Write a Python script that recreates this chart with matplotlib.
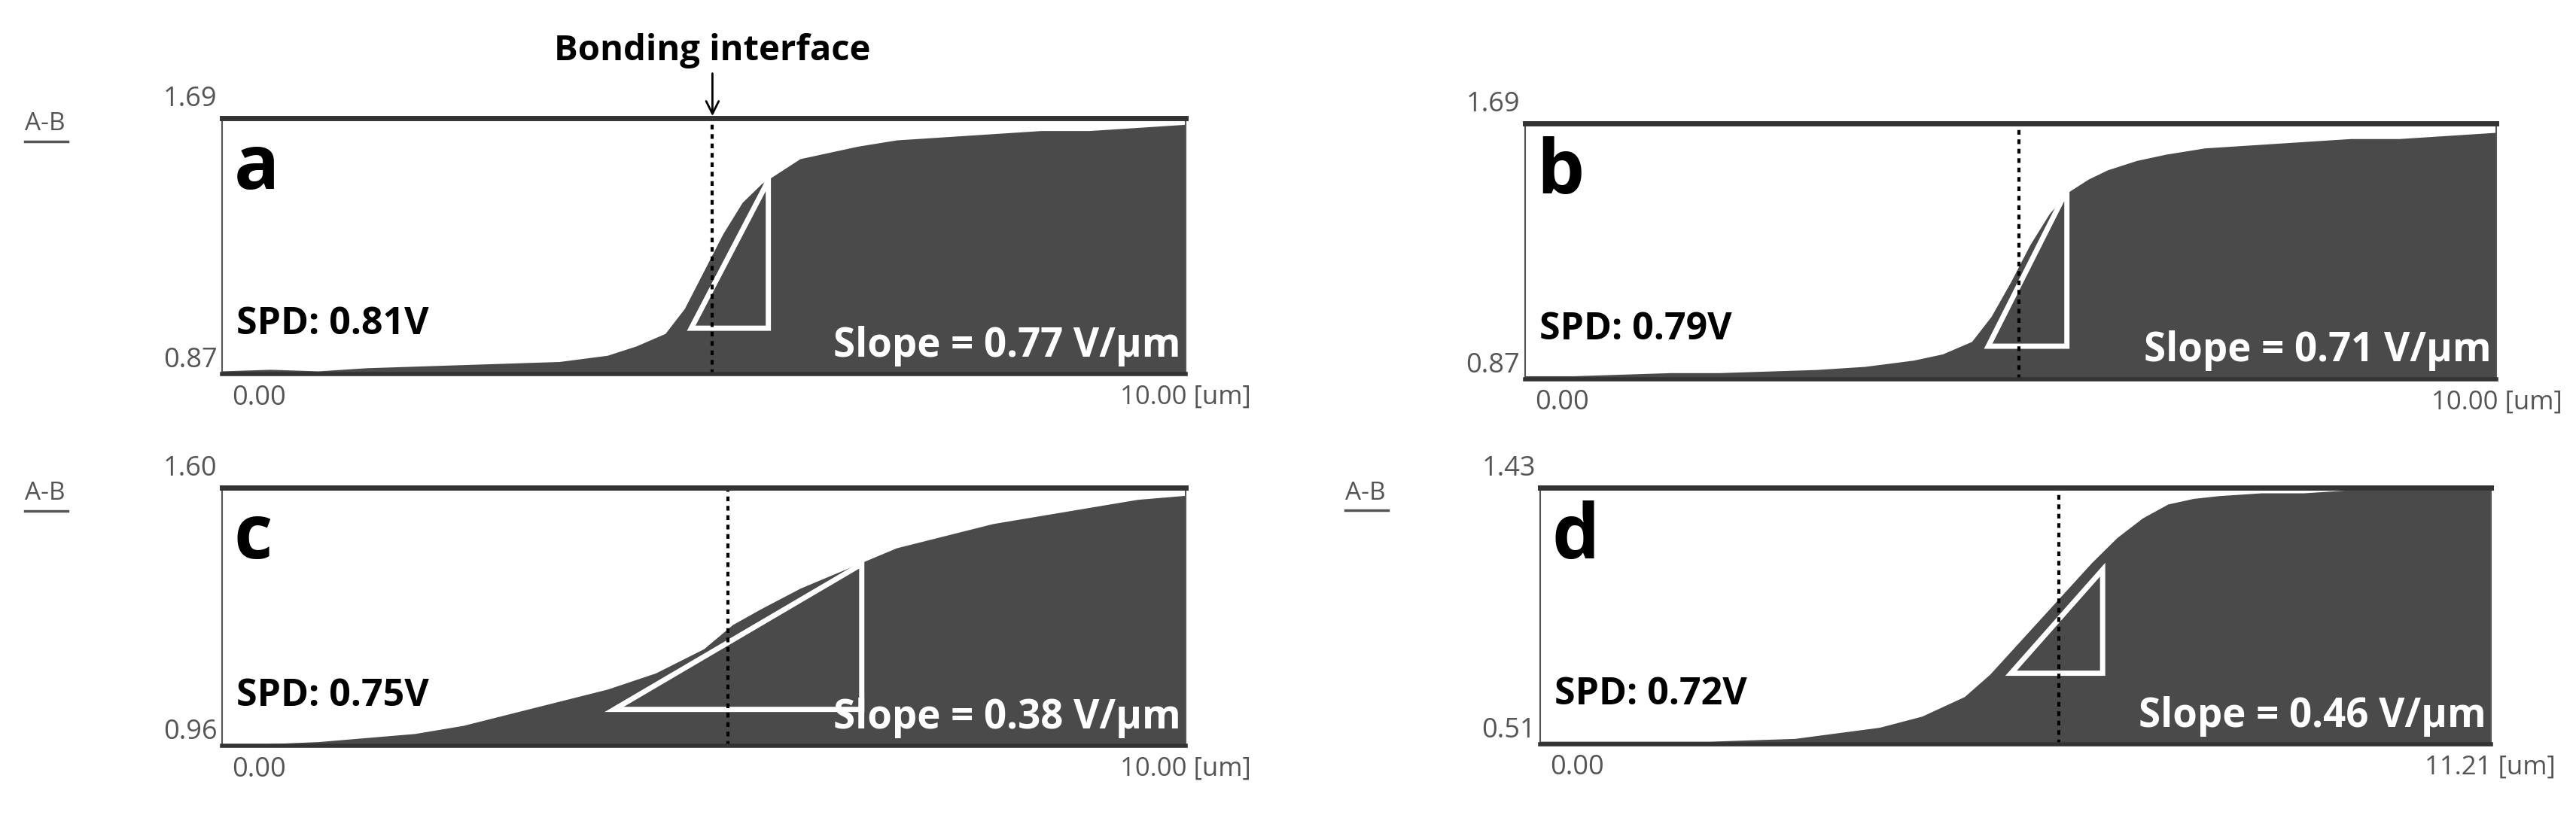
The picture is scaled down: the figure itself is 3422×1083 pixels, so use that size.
import matplotlib.pyplot as plt
from matplotlib.patches import Polygon

# ===== DATA =====
labels = ["a", "b", "c", "d"]
spd = ["SPD: 0.81V", "SPD: 0.79V", "SPD: 0.75V", "SPD: 0.72V"]
slopes = ["Slope = 0.77 V/\u00b5m", "Slope = 0.71 V/\u00b5m", "Slope = 0.38 V/\u00b5m", "Slope = 0.46 V/\u00b5m"]
ymins = [0.87, 0.87, 0.96, 0.51]
ymaxs = [1.69, 1.69, 1.60, 1.43]
xmaxs = [10.00, 10.00, 10.00, 11.21]
interface_x = [5.09, 5.09, 5.25, 6.11]

x_a = [0, 0.5, 1, 1.5, 2, 2.5, 3, 3.5, 4, 4.3, 4.6, 4.8, 5.0, 5.2, 5.4, 5.6, 5.8, 6.0, 6.3, 6.6, 7, 7.5, 8, 8.5, 9, 9.5, 10]
y_a = [0.88, 0.885, 0.88, 0.89, 0.895, 0.90, 0.905, 0.91, 0.93, 0.96, 1.00, 1.08, 1.20, 1.32, 1.42, 1.48, 1.52, 1.56, 1.58, 1.60, 1.62, 1.63, 1.64, 1.65, 1.65, 1.66, 1.67]
x_b = [0, 0.5, 1, 1.5, 2, 2.5, 3, 3.5, 4, 4.3, 4.6, 4.8, 5.0, 5.2, 5.4, 5.6, 5.8, 6.0, 6.3, 6.6, 7, 7.5, 8, 8.5, 9, 9.5, 10]
y_b = [0.88, 0.88, 0.885, 0.89, 0.89, 0.895, 0.90, 0.91, 0.93, 0.95, 0.99, 1.07, 1.18, 1.30, 1.40, 1.47, 1.51, 1.54, 1.57, 1.59, 1.61, 1.62, 1.63, 1.64, 1.64, 1.65, 1.66]
x_c = [0, 0.5, 1, 1.5, 2, 2.5, 3, 3.5, 4, 4.5, 5, 5.3, 5.6, 6, 6.5, 7, 7.5, 8, 8.5, 9, 9.5, 10]
y_c = [0.96, 0.965, 0.97, 0.98, 0.99, 1.01, 1.04, 1.07, 1.10, 1.14, 1.20, 1.26, 1.30, 1.35, 1.40, 1.45, 1.48, 1.51, 1.53, 1.55, 1.57, 1.58]
x_d = [0, 1, 2, 3, 3.5, 4, 4.5, 5, 5.3, 5.6, 5.9, 6.2, 6.5, 6.8, 7.1, 7.4, 7.7, 8, 8.5, 9, 9.5, 10, 10.5, 11.21]
y_d = [0.52, 0.52, 0.52, 0.53, 0.55, 0.57, 0.61, 0.68, 0.76, 0.86, 0.96, 1.06, 1.16, 1.25, 1.32, 1.37, 1.39, 1.40, 1.41, 1.41, 1.42, 1.42, 1.42, 1.42]
xs = [x_a, x_b, x_c, x_d]
ys = [y_a, y_b, y_c, y_d]

# triangle corners: (x_left, x_right, y_bottom, y_top)
tri_a = (4.87, 5.67, 1.017, 1.49)
tri_b = (4.77, 5.58, 0.975, 1.475)
tri_c = (4.07, 6.64, 1.05, 1.41)
tri_d = (5.55, 6.63, 0.764, 1.135)
tris = [tri_a, tri_b, tri_c, tri_d]

# axes rectangles [left, bottom, width, height] in figure fraction
rects = [
    [0.0862, 0.541, 0.374, 0.314],
    [0.592, 0.535, 0.377, 0.314],
    [0.0862, 0.085, 0.374, 0.317],
    [0.598, 0.087, 0.369, 0.315],
]

FONT = ["Open Sans", "DejaVu Sans"]
FILL = "#4a4a4a"

fig = plt.figure(figsize=(34.22, 10.83), dpi=100)

for i in range(4):
    ax = fig.add_axes(rects[i])
    ax.fill_between(xs[i], ymins[i], ys[i], color=FILL, lw=0)
    ax.set_xlim(0, xmaxs[i])
    ax.set_ylim(ymins[i], ymaxs[i])
    ax.set_xticks([])
    ax.set_yticks([])
    for s in ax.spines.values():
        s.set_color("#555555")
        s.set_linewidth(1.5)
    ax.spines["top"].set_linewidth(5)
    ax.spines["top"].set_color("#333333")
    ax.spines["bottom"].set_linewidth(4)
    ax.spines["bottom"].set_color("#333333")

    ax.axvline(interface_x[i], ymin=0, ymax=1, color="black", ls=(0, (1.5, 1.5)), lw=3)
    xl, xr, yb, yt = tris[i]
    ax.add_patch(Polygon([(xl, yb), (xr, yb), (xr, yt)], closed=True, fill=False, ec="white", lw=5))

    ax.text(0.012, 0.95, labels[i], transform=ax.transAxes, fontsize=72, fontweight="bold",
            family=FONT, va="top", ha="left")
    ax.text(0.015, 0.12, spd[i], transform=ax.transAxes, fontsize=36, fontweight="bold",
            family=FONT, va="bottom", ha="left")
    ax.text(0.995, 0.03, slopes[i], transform=ax.transAxes, fontsize=38, fontweight="bold",
            family=FONT, va="bottom", ha="right", color="white")

    # instrument-style axis labels
    ax.text(-0.005, 1.02, f"{ymaxs[i]:.2f}", transform=ax.transAxes, fontsize=26, color="#555555",
            ha="right", va="bottom", family=FONT)
    ax.text(-0.005, 0.0, f"{ymins[i]:.2f}", transform=ax.transAxes, fontsize=26, color="#555555",
            ha="right", va="bottom", family=FONT)
    ax.text(0.01, -0.04, "0.00", transform=ax.transAxes, fontsize=26, color="#555555",
            ha="left", va="top", family=FONT)
    ax.text(1.068, -0.04, f"{xmaxs[i]:.2f} [um]", transform=ax.transAxes, fontsize=25, color="#555555",
            ha="right", va="top", family=FONT)
    if i != 1:
        ax.text(-0.205, 0.93, "A-B", transform=ax.transAxes, fontsize=24, color="#555555",
                ha="left", va="bottom", family=FONT)
        ax.plot([-0.205, -0.16], [0.91, 0.91], transform=ax.transAxes, color="#555555", lw=2.5,
                clip_on=False)

# Bonding interface annotation above panel a
ax0 = fig.axes[0]
ax0.text(interface_x[0], ymaxs[0] + 0.16, "Bonding interface", fontsize=34, fontweight="bold",
         family=FONT, ha="center", va="bottom", clip_on=False)
ax0.annotate("", xy=(interface_x[0], ymaxs[0]), xytext=(interface_x[0], ymaxs[0] + 0.15),
             xycoords="data", arrowprops=dict(arrowstyle="->", lw=2, color="black",
                                              mutation_scale=30), annotation_clip=False)

fig.savefig("out.png", dpi=100, facecolor="white")
